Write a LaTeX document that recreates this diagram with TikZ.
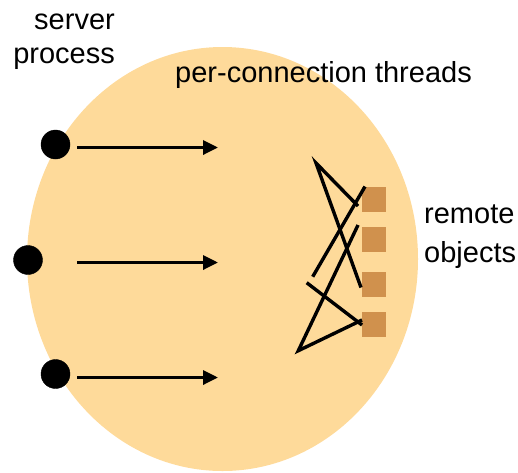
\documentclass[tikz,border=0pt]{standalone}
\usepackage{fontspec}
\setmainfont{Liberation Sans}
\usetikzlibrary{arrows.meta}
\definecolor{ellcol}{RGB}{254,218,154}
\definecolor{objcol}{RGB}{208,145,77}
\begin{document}
\begin{tikzpicture}[x=1pt,y=-1pt,
  lbl/.style={inner sep=0pt,font=\fontsize{29}{34}\selectfont},
  conn/.style={draw,circle,fill=black,inner sep=0pt,minimum width=27.5pt,minimum height=29pt},
  obj/.style={fill=objcol,inner sep=0pt,minimum width=24.5pt,minimum height=25pt},
  arr/.style={line width=3.3pt,-{Triangle[length=15pt,width=14pt]}},
  thr/.style={line width=3.4pt}]
\useasboundingbox (0,0) rectangle (518,472);
\fill[ellcol] (222.5,259) ellipse [x radius=195.5pt, y radius=212pt];
% labels
\node[lbl,anchor=base east] (sv) at (115,29) {server};
\node[lbl,anchor=base east] (pr) at (115,63) {process};
\node[lbl,anchor=base west] (pc) at (175,82) {per-connection threads};
\node[lbl,anchor=base west] (rm) at (424,223) {remote};
\node[lbl,anchor=base west] (ob) at (424,262) {objects};
% connection dots
\node[conn] (d1) at (55.5,144.5) {};
\node[conn] (d2) at (28,260) {};
\node[conn] (d3) at (55.5,374) {};
% arrow ends
\coordinate (a1) at (218,147.5);
\coordinate (a2) at (218,262.5);
\coordinate (a3) at (218,377.5);
\draw[arr] (77,147.5) -- (a1);
\draw[arr] (77,262.5) -- (a2);
\draw[arr] (77,377.5) -- (a3);
% remote objects
\node[obj] (o1) at (374,199) {};
\node[obj] (o2) at (374,239) {};
\node[obj] (o3) at (374,284.5) {};
\node[obj] (o4) at (374,324) {};
% thread lines
\coordinate (t1) at (316,163);
\coordinate (t2) at (312.7,276.7);
\coordinate (t3) at (306.7,282.7);
\coordinate (t4) at (298.3,350.7);
\draw[thr] ([xshift=-16pt,yshift=-7pt]o1.center) -- (t1) -- ([xshift=-13pt,yshift=-3pt]o3.center);
\draw[thr] ([xshift=-9pt,yshift=12.5pt]o1.center) -- (t2);
\draw[thr] (t3) -- ([xshift=-12pt,yshift=-1pt]o4.center);
\draw[thr] ([xshift=-16pt,yshift=14pt]o2.center) -- (t4) -- ([xshift=-12pt,yshift=4pt]o4.center);
\end{tikzpicture}
\end{document}
